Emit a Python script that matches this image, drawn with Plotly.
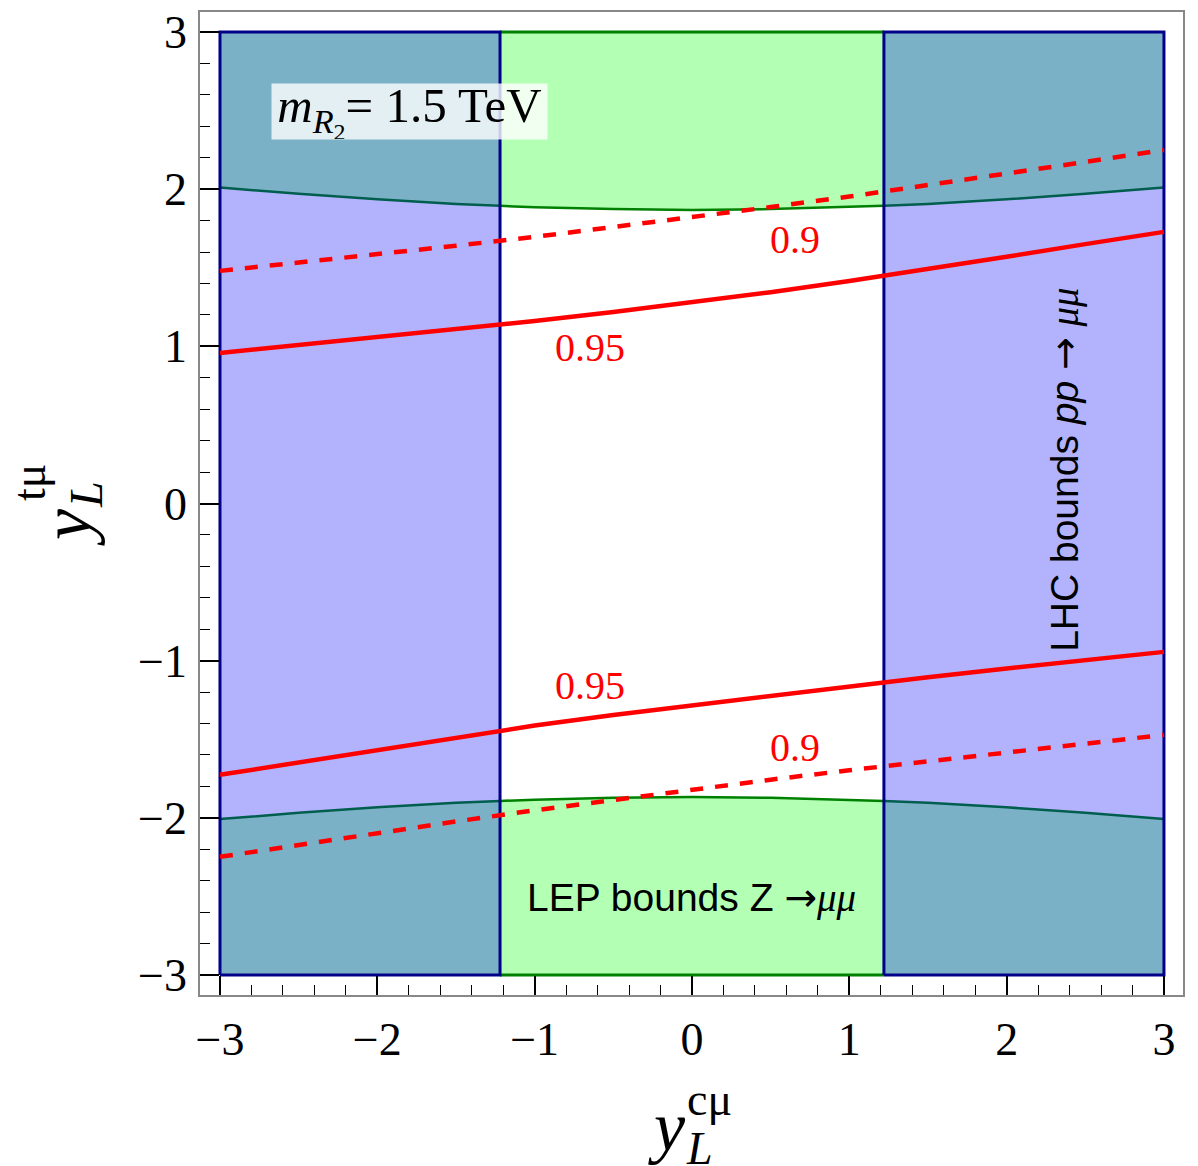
import numpy as np
import plotly.graph_objects as go

# ---- data -------------------------------------------------------------
X_GRID = [-3.0, -2.5, -2.0, -1.5, -1.0, -0.5, 0.0, 0.5, 1.0, 1.5, 2.0, 2.5, 3.0]

# LEP (Z -> mu mu) boundary, |y_L^{t mu}| above this is excluded
LEP_UPPER = [2.010, 1.970, 1.935, 1.905, 1.885, 1.873, 1.868, 1.873, 1.885, 1.905, 1.935, 1.970, 2.010]
LEP_LOWER = [-2.008, -1.968, -1.933, -1.904, -1.884, -1.872, -1.867, -1.872, -1.884, -1.904, -1.933, -1.968, -2.008]

# LHC (pp -> mu mu) bound on |y_L^{c mu}|
LHC_BOUND = 1.22

# contours of the ratio: 0.95 (solid) and 0.9 (dashed)
C095_UPPER = [0.958, 1.008, 1.060, 1.110, 1.161, 1.218, 1.278, 1.344, 1.415, 1.490, 1.570, 1.650, 1.728]
C095_LOWER = [-1.726, -1.648, -1.568, -1.488, -1.413, -1.345, -1.284, -1.222, -1.163, -1.105, -1.050, -0.997, -0.944]
C090_UPPER = [1.480, 1.532, 1.586, 1.640, 1.696, 1.757, 1.821, 1.886, 1.953, 2.024, 2.098, 2.173, 2.249]
C090_LOWER = [-2.248, -2.172, -2.097, -2.023, -1.952, -1.886, -1.822, -1.757, -1.697, -1.641, -1.586, -1.530, -1.472]

TICK_VALS = [-3, -2, -1, 0, 1, 2, 3]
TICK_TEXT = ["\u22123", "\u22122", "\u22121", "0", "1", "2", "3"]

# ---- styling ----------------------------------------------------------
GREEN_FILL = "#b3ffb3"
BLUE_FILL = "#b3b3fd"
OVERLAP_FILL = "#7bb1c7"
GREEN_LINE = "#008000"
OVERLAP_LINE = "#005e4e"
NAVY = "#000088"
RED = "#ff0000"
SERIF = "Liberation Serif, Times New Roman, serif"
SANS = "Liberation Sans, Arial, Helvetica, sans-serif"

xg = np.array(X_GRID)
B = LHC_BOUND
YTOP, YBOT = 3.0, -3.0


def segment(curve, x0, x1):
    """Return the curve restricted to [x0, x1], with end points interpolated."""
    c = np.array(curve)
    inner = (xg > x0) & (xg < x1)
    xs = np.concatenate([[x0], xg[inner], [x1]])
    ys = np.concatenate([[np.interp(x0, xg, c)], c[inner], [np.interp(x1, xg, c)]])
    return xs, ys


fig = go.Figure()


def fill_poly(xs, ys, color):
    fig.add_trace(go.Scatter(x=list(xs), y=list(ys), fill="toself", fillcolor=color,
                             mode="lines", line=dict(width=0), hoverinfo="skip",
                             showlegend=False))


def line(xs, ys, color, width, dash="solid"):
    fig.add_trace(go.Scatter(x=list(xs), y=list(ys), mode="lines",
                             line=dict(color=color, width=width, dash=dash),
                             hoverinfo="skip", showlegend=False))


# green LEP-excluded regions in the middle strip
for curve, edge in ((LEP_UPPER, YTOP), (LEP_LOWER, YBOT)):
    sx, sy = segment(curve, -B, B)
    fill_poly(np.concatenate([sx, sx[::-1]]), np.concatenate([sy, [edge] * len(sx)]), GREEN_FILL)

# side strips: blue (LHC only) and overlap (LHC + LEP)
for x0, x1 in ((-3.0, -B), (B, 3.0)):
    ux, uy = segment(LEP_UPPER, x0, x1)
    lx, ly = segment(LEP_LOWER, x0, x1)
    fill_poly(np.concatenate([ux, ux[::-1]]), np.concatenate([uy, ly[::-1]]), BLUE_FILL)
    fill_poly(np.concatenate([ux, ux[::-1]]), np.concatenate([uy, [YTOP] * len(ux)]), OVERLAP_FILL)
    fill_poly(np.concatenate([lx, lx[::-1]]), np.concatenate([ly, [YBOT] * len(lx)]), OVERLAP_FILL)

# LEP boundary curves
for curve in (LEP_UPPER, LEP_LOWER):
    sx, sy = segment(curve, -B, B)
    line(sx, sy, GREEN_LINE, 2.5)
    for x0, x1 in ((-3.0, -B), (B, 3.0)):
        sx, sy = segment(curve, x0, x1)
        line(sx, sy, OVERLAP_LINE, 2.5)

# green outer edges of the middle strip
line([-B, B], [YTOP, YTOP], GREEN_LINE, 3)
line([-B, B], [YBOT, YBOT], GREEN_LINE, 3)

# LHC strips outlined in navy
for x0, x1 in ((-3.0, -B), (B, 3.0)):
    line([x0, x1, x1, x0, x0], [YBOT, YBOT, YTOP, YTOP, YBOT], NAVY, 3)

# ratio contours
line(X_GRID, C095_UPPER, RED, 4.5)
line(X_GRID, C095_LOWER, RED, 4.5)
line(X_GRID, C090_UPPER, RED, 4.5, dash="13px,12px")
line(X_GRID, C090_LOWER, RED, 4.5, dash="13px,12px")

# ---- annotations --------------------------------------------------------
ARROW = "<span style='font-family:DejaVu Sans'>\u2192</span>"
MUMU = "<span style='font-family:Liberation Serif'><i>\u03bc\u03bc</i></span>"

ann = []
for txt, x, y in (("0.9", 0.655, 1.677), ("0.95", -0.648, 0.990),
                  ("0.95", -0.648, -1.160), ("0.9", 0.655, -1.555)):
    ann.append(dict(x=x, y=y, xref="x", yref="y", text=txt, showarrow=False,
                    font=dict(family=SERIF, size=40, color=RED)))

ann.append(dict(x=-1.797, y=2.497, xref="x", yref="y", showarrow=False,
                text="<i>m</i><sub><i>R</i><sub>2</sub></sub>= 1.5 TeV",
                width=275, height=55, valign="middle", align="center",
                font=dict(family=SERIF, size=49, color="black"),
                bgcolor="rgba(255,255,255,0.8)", borderpad=0))

ann.append(dict(x=0.0, y=-2.509, xref="x", yref="y", showarrow=False,
                text="LEP bounds Z " + ARROW + MUMU,
                font=dict(family=SANS, size=39, color="black")))

ann.append(dict(x=2.371, y=0.214, xref="x", yref="y", showarrow=False, textangle=-90,
                text="LHC bounds <i>pp</i> " + ARROW + " " + MUMU,
                font=dict(family=SANS, size=39, color="black")))


def px_to_paper(px, py):
    return (px - 200) / 983.0, (995 - py) / 983.0


# x-axis title  y_L^{c mu}
for txt, px, py, size, yanc in (("<i>y</i>", 667, 1126, 70, "middle"),
                                ("c\u03bc", 709, 1099, 46, "middle"),
                                ("<i>L</i>", 699, 1176, 46, "bottom")):
    xp, yp = px_to_paper(px, py)
    ann.append(dict(x=xp, y=yp, xref="paper", yref="paper", text=txt, showarrow=False,
                    xanchor="center", yanchor=yanc,
                    font=dict(family=SERIF, size=size, color="black")))

# y-axis title  y_L^{t mu}  (rotated)
for txt, px, py, size in (("<i>y</i>", 66, 527, 70), ("t\u03bc", 29, 483, 46),
                          ("<i>L</i>", 87, 495, 46)):
    xp, yp = px_to_paper(px, py)
    ann.append(dict(x=xp, y=yp, xref="paper", yref="paper", text=txt, showarrow=False,
                    textangle=-90, xanchor="center", yanchor="middle",
                    font=dict(family=SERIF, size=size, color="black")))

axis_common = dict(
    showline=True, linecolor="#888888", linewidth=1.5, mirror=True,
    showgrid=False, zeroline=False, automargin=False,
    tickmode="array", tickvals=TICK_VALS, ticktext=TICK_TEXT,
    ticks="inside", ticklen=19, tickwidth=1.5, tickcolor="black",
    minor=dict(ticks="inside", ticklen=10, tickwidth=1.2, tickcolor="black",
               tick0=0, dtick=0.2, showgrid=False),
    tickfont=dict(family=SERIF, size=46, color="black"),
)

fig.update_layout(
    width=1198, height=1166,
    margin=dict(l=200, r=15, t=12, b=171, autoexpand=False),
    paper_bgcolor="white", plot_bgcolor="white",
    xaxis=dict(range=[-3.127, 3.121], ticklabelstandoff=3, **axis_common),
    yaxis=dict(range=[-3.127, 3.127], ticklabelstandoff=2, **axis_common),
    annotations=ann,
    showlegend=False,
)

fig.write_html("out.html")
